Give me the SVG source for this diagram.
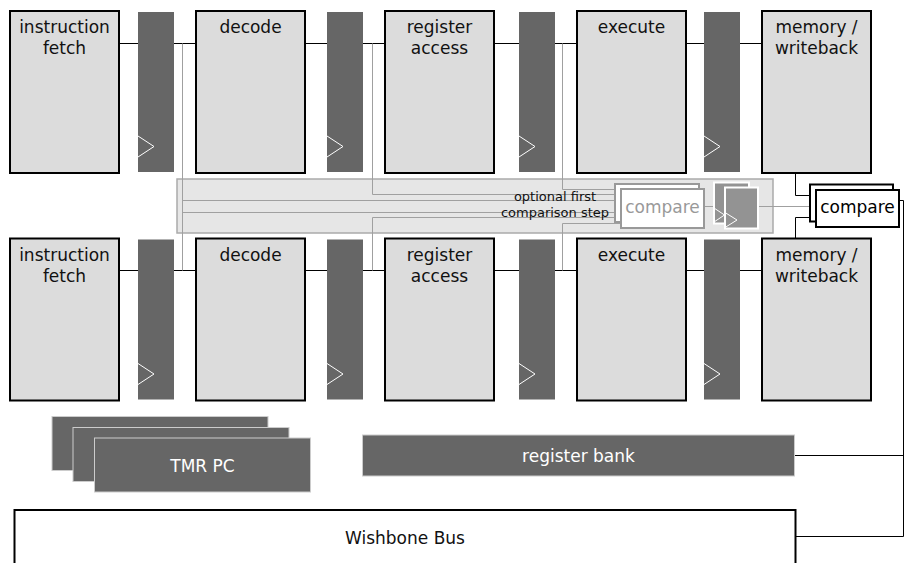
<svg xmlns="http://www.w3.org/2000/svg" width="904" height="563" viewBox="0 0 904 563">
  <style>
    text { font-family: "DejaVu Sans", "Liberation Sans", sans-serif; }
    .stage { fill: #dcdcdc; stroke: #000; stroke-width: 2; }
    .stage-label { font-size: 17px; fill: #111; text-anchor: middle; }
    .reg { fill: #666; }
    .clk { fill: none; stroke: #fff; stroke-width: 1; }
    .wire { fill: none; stroke: #000; stroke-width: 1; }
    .tap { fill: none; stroke: #a0a0a0; stroke-width: 1; }
    .band { fill: #e6e6e6; stroke: #aaa; stroke-width: 1.5; }
    .cmp-soft { fill: #fff; stroke: #999; stroke-width: 2; }
    .cmp { fill: #fff; stroke: #000; stroke-width: 2; }
    .mini-reg { fill: #939393; stroke: #fff; stroke-width: 2; }
    .block { fill: #666; stroke: #ccc; stroke-width: 1; }
    .block-label { font-size: 17px; fill: #fff; text-anchor: middle; }
  </style>

  <!-- shaded region around the optional first comparison step -->
  <rect id="first-compare-band" class="band" x="177" y="179" width="596" height="54"/>

  <!-- connectors -->
  <g id="connectors">
    <!-- pipeline, upper lane -->
    <path class="wire" d="M119,43.5H138 M174,43.5H196 M305,43.5H327 M363,43.5H385 M494,43.5H519 M555,43.5H577 M686,43.5H704 M740,43.5H762"/>
    <!-- pipeline, lower lane -->
    <path class="wire" d="M119,270.5H138 M174,270.5H196 M305,270.5H327 M363,270.5H385 M494,270.5H519 M555,270.5H577 M686,270.5H704 M740,270.5H762"/>
    <!-- taps into the first comparison step -->
    <path class="tap" d="M182.5,43.5V270.5 M182.5,200.5H621 M182.5,212.5H621"/>
    <path class="tap" d="M372.5,43.5V194.5H621 M372.5,270.5V217.5H621"/>
    <path class="tap" d="M562.5,43.5V189.5H621 M562.5,270.5V223.5H621"/>
    <path class="tap" d="M704,206.5H725 M757,206.5H816" stroke="#b0b0b0"/>
    <!-- writeback outputs into the final compare -->
    <path class="wire" d="M795.5,173V195.5H816"/>
    <path class="wire" d="M795.5,238V217.5H816"/>
    <!-- compare result to register bank and bus -->
    <path class="wire" d="M899,200.5H903.5V536.5H795"/>
    <path class="wire" d="M794,455.5H903.5"/>
  </g>

  <!-- upper lane -->
  <g id="fetch-a">
    <rect class="stage" x="10" y="11" width="109" height="162"/>
    <text class="stage-label" x="64.5" y="33">instruction</text>
    <text class="stage-label" x="64.5" y="54">fetch</text>
  </g>
  <g id="reg-a1"><rect class="reg" x="138" y="12" width="36" height="160"/><path class="clk" d="M138,136L154,146.5L138,157"/></g>
  <g id="decode-a">
    <rect class="stage" x="196" y="11" width="109" height="162"/>
    <text class="stage-label" x="250.5" y="33">decode</text>
  </g>
  <g id="reg-a2"><rect class="reg" x="327" y="12" width="36" height="160"/><path class="clk" d="M327,136L343,146.5L327,157"/></g>
  <g id="regaccess-a">
    <rect class="stage" x="385" y="11" width="109" height="162"/>
    <text class="stage-label" x="439.5" y="33">register</text>
    <text class="stage-label" x="439.5" y="54">access</text>
  </g>
  <g id="reg-a3"><rect class="reg" x="519" y="12" width="36" height="160"/><path class="clk" d="M519,136L535,146.5L519,157"/></g>
  <g id="execute-a">
    <rect class="stage" x="577" y="11" width="109" height="162"/>
    <text class="stage-label" x="631.5" y="33">execute</text>
  </g>
  <g id="reg-a4"><rect class="reg" x="704" y="12" width="36" height="160"/><path class="clk" d="M704,136L720,146.5L704,157"/></g>
  <g id="writeback-a">
    <rect class="stage" x="762" y="11" width="109" height="162"/>
    <text class="stage-label" x="816.5" y="33">memory /</text>
    <text class="stage-label" x="816.5" y="54">writeback</text>
  </g>

  <!-- lower lane -->
  <g id="fetch-b">
    <rect class="stage" x="10" y="238.5" width="109" height="162"/>
    <text class="stage-label" x="64.5" y="260.5">instruction</text>
    <text class="stage-label" x="64.5" y="281.5">fetch</text>
  </g>
  <g id="reg-b1"><rect class="reg" x="138" y="239.5" width="36" height="160"/><path class="clk" d="M138,363.5L154,374L138,384.5"/></g>
  <g id="decode-b">
    <rect class="stage" x="196" y="238.5" width="109" height="162"/>
    <text class="stage-label" x="250.5" y="260.5">decode</text>
  </g>
  <g id="reg-b2"><rect class="reg" x="327" y="239.5" width="36" height="160"/><path class="clk" d="M327,363.5L343,374L327,384.5"/></g>
  <g id="regaccess-b">
    <rect class="stage" x="385" y="238.5" width="109" height="162"/>
    <text class="stage-label" x="439.5" y="260.5">register</text>
    <text class="stage-label" x="439.5" y="281.5">access</text>
  </g>
  <g id="reg-b3"><rect class="reg" x="519" y="239.5" width="36" height="160"/><path class="clk" d="M519,363.5L535,374L519,384.5"/></g>
  <g id="execute-b">
    <rect class="stage" x="577" y="238.5" width="109" height="162"/>
    <text class="stage-label" x="631.5" y="260.5">execute</text>
  </g>
  <g id="reg-b4"><rect class="reg" x="704" y="239.5" width="36" height="160"/><path class="clk" d="M704,363.5L720,374L704,384.5"/></g>
  <g id="writeback-b">
    <rect class="stage" x="762" y="238.5" width="109" height="162"/>
    <text class="stage-label" x="816.5" y="260.5">memory /</text>
    <text class="stage-label" x="816.5" y="281.5">writeback</text>
  </g>

  <!-- optional first comparison step -->
  <g id="first-compare-note">
    <text x="555" y="200.5" font-size="13" fill="#111" text-anchor="middle">optional first</text>
    <text x="555" y="216.5" font-size="13" fill="#111" text-anchor="middle">comparison step</text>
  </g>
  <g id="first-compare">
    <rect class="cmp-soft" x="615" y="184" width="84" height="38"/>
    <rect class="cmp-soft" x="621" y="189" width="83" height="39"/>
    <text x="662.5" y="212.5" font-size="17" fill="#999" text-anchor="middle">compare</text>
  </g>
  <g id="first-compare-reg">
    <rect class="mini-reg" x="714" y="182.5" width="35" height="41"/>
    <path class="clk" d="M714,208L724.5,215L714,222"/>
    <rect class="mini-reg" x="725" y="187.5" width="33" height="41"/>
    <path class="clk" d="M725,212.5L737,220L725,227.5"/>
  </g>

  <!-- final compare -->
  <g id="final-compare">
    <rect class="cmp" x="810" y="184.5" width="83" height="37"/>
    <rect class="cmp" x="816" y="190" width="83" height="37"/>
    <text x="857.5" y="213" font-size="17" fill="#000" text-anchor="middle">compare</text>
  </g>

  <!-- shared resources -->
  <g id="tmr-pc">
    <rect class="block" x="52" y="416.5" width="216" height="54"/>
    <rect class="block" x="73" y="427.5" width="216" height="54"/>
    <rect class="block" x="94.5" y="438" width="216" height="54"/>
    <text class="block-label" x="202.5" y="471.5">TMR PC</text>
  </g>
  <g id="register-bank">
    <rect class="block" x="362.5" y="435" width="432" height="41"/>
    <text class="block-label" x="578.5" y="461.5">register bank</text>
  </g>
  <g id="wishbone-bus">
    <rect x="14.5" y="510" width="781" height="60" fill="#fff" stroke="#000" stroke-width="2"/>
    <text x="405" y="544" font-size="17" fill="#111" text-anchor="middle">Wishbone Bus</text>
  </g>
</svg>
